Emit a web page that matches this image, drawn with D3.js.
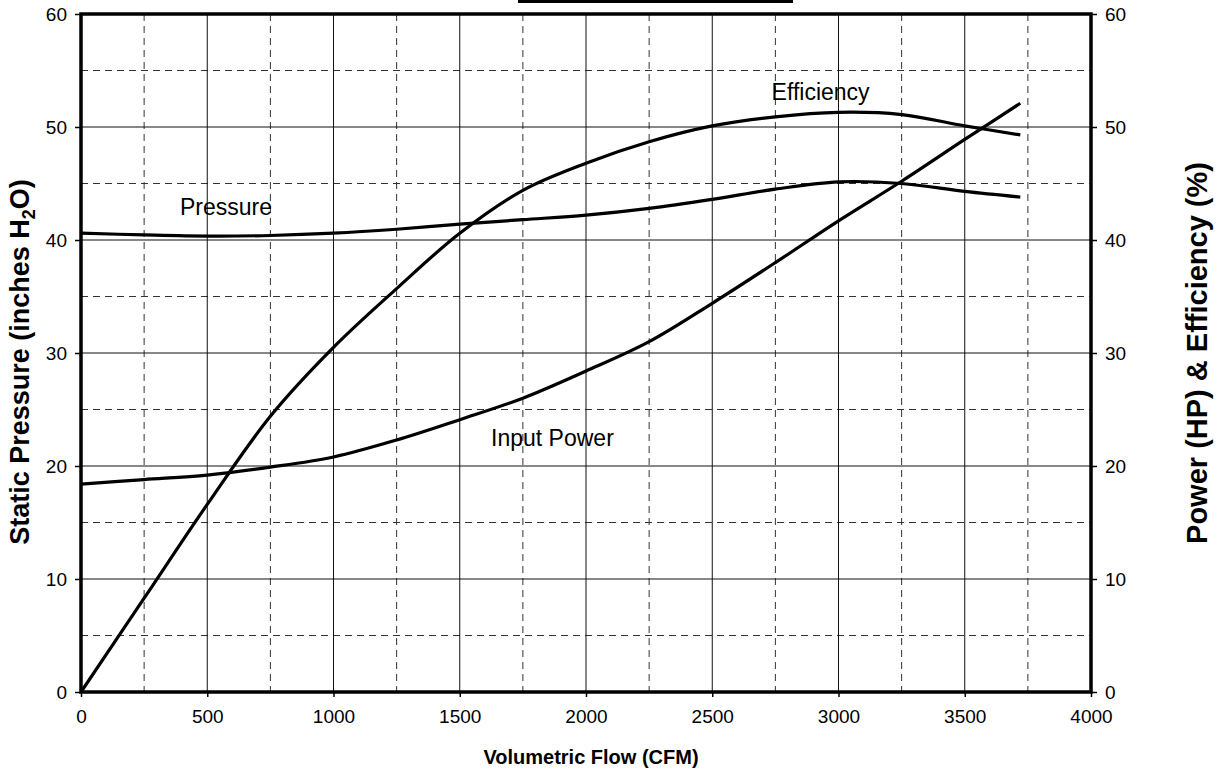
<!DOCTYPE html>
<html>
<head>
<meta charset="utf-8">
<script src="https://cdn.jsdelivr.net/npm/d3@7"></script>
<style>
  body { margin: 0; background: #fff; }
  svg { display: block; font-family: Arial, "Liberation Sans", sans-serif; }
</style>
</head>
<body>
<div id="chart"></div>
<script>
// ---------- data ----------
const flow = [0, 250, 500, 750, 1000, 1250, 1500, 1750, 2000, 2250, 2500, 2750, 3000, 3250, 3500, 3720];
const pressure = [40.6, 40.45, 40.35, 40.4, 40.6, 40.95, 41.4, 41.8, 42.2, 42.8, 43.6, 44.5, 45.15, 45.0, 44.3, 43.8];
const efficiency = [0, 8.3, 16.6, 24.4, 30.5, 35.7, 40.6, 44.4, 46.8, 48.7, 50.1, 50.9, 51.3, 51.1, 50.1, 49.3];
const inputPower = [18.4, 18.8, 19.2, 19.9, 20.8, 22.3, 24.1, 26.0, 28.4, 31.0, 34.4, 38.0, 41.7, 45.2, 48.9, 52.1];

const xTicks = [0, 500, 1000, 1500, 2000, 2500, 3000, 3500, 4000];
const xMinor = [250, 750, 1250, 1750, 2250, 2750, 3250, 3750];
const yTicks = [0, 10, 20, 30, 40, 50, 60];
const yMinor = [5, 15, 25, 35, 45, 55];

// ---------- layout ----------
const width = 1220, height = 772;
const margin = {top: 14, right: 129, bottom: 80, left: 81};
const w = width - margin.left - margin.right;
const h = height - margin.top - margin.bottom;

const svg = d3.select("#chart").append("svg")
  .attr("width", width)
  .attr("height", height);

// cut-off title box edge at the top
svg.append("line")
  .attr("x1", 518).attr("x2", 793)
  .attr("y1", 1.5).attr("y2", 1.5)
  .attr("stroke", "#000").attr("stroke-width", 3);

const g = svg.append("g")
  .attr("transform", `translate(${margin.left},${margin.top})`);

// ---------- scales ----------
const x = d3.scaleLinear().domain([0, 4000]).range([0, w]);
const yL = d3.scaleLinear().domain([0, 60]).range([h, 0]);
const yR = d3.scaleLinear().domain([0, 60]).range([h, 0]);

// ---------- grid ----------
const grid = g.append("g").attr("class", "grid");
grid.selectAll(".vmin").data(xMinor).enter().append("line")
  .attr("x1", d => x(d)).attr("x2", d => x(d))
  .attr("y1", 0).attr("y2", h)
  .attr("stroke", "#333").attr("stroke-width", 1).attr("stroke-dasharray", "7,5");
grid.selectAll(".hmin").data(yMinor).enter().append("line")
  .attr("x1", 0).attr("x2", w)
  .attr("y1", d => yL(d)).attr("y2", d => yL(d))
  .attr("stroke", "#333").attr("stroke-width", 1).attr("stroke-dasharray", "7,5");
grid.selectAll(".vmaj").data(xTicks.slice(1, -1)).enter().append("line")
  .attr("x1", d => x(d)).attr("x2", d => x(d))
  .attr("y1", 0).attr("y2", h)
  .attr("stroke", "#111").attr("stroke-width", 1);
grid.selectAll(".hmaj").data(yTicks.slice(1, -1)).enter().append("line")
  .attr("x1", 0).attr("x2", w)
  .attr("y1", d => yL(d)).attr("y2", d => yL(d))
  .attr("stroke", "#111").attr("stroke-width", 1);

// ---------- axes ----------
function styleAxis(sel) {
  sel.select(".domain").remove();
  sel.selectAll(".tick line").attr("stroke", "#000").attr("stroke-width", 1.5);
  sel.selectAll(".tick text").attr("font-size", 19).attr("fill", "#000")
    .attr("font-family", "Arial, 'Liberation Sans', sans-serif");
}
const fmt = d3.format("d");

g.append("g")
  .attr("transform", `translate(0,${h})`)
  .call(d3.axisBottom(x).tickValues(xTicks).tickFormat(fmt).tickSize(5).tickPadding(13))
  .call(styleAxis);

g.append("g")
  .call(d3.axisLeft(yL).tickValues(yTicks).tickFormat(fmt).tickSize(6).tickPadding(8))
  .call(styleAxis);

g.append("g")
  .attr("transform", `translate(${w},0)`)
  .call(d3.axisRight(yR).tickValues(yTicks).tickFormat(fmt).tickSize(6).tickPadding(8))
  .call(styleAxis);

// plot frame
g.append("rect")
  .attr("x", 0).attr("y", 0).attr("width", w).attr("height", h)
  .attr("fill", "none").attr("stroke", "#000").attr("stroke-width", 3.5);

// ---------- curves ----------
function series(vals) {
  return flow.map((f, i) => ({f: f, v: vals[i]}));
}
const lineL = d3.line().x(d => x(d.f)).y(d => yL(d.v)).curve(d3.curveCatmullRom.alpha(0.5));
const lineR = d3.line().x(d => x(d.f)).y(d => yR(d.v)).curve(d3.curveCatmullRom.alpha(0.5));

g.append("path").datum(series(pressure)).attr("d", lineL)
  .attr("fill", "none").attr("stroke", "#000").attr("stroke-width", 3.2);
g.append("path").datum(series(efficiency)).attr("d", lineR)
  .attr("fill", "none").attr("stroke", "#000").attr("stroke-width", 3.2);
g.append("path").datum(series(inputPower)).attr("d", lineR)
  .attr("fill", "none").attr("stroke", "#000").attr("stroke-width", 3.2);

// curve labels
const labels = [
  {text: "Pressure", f: 392, v: 42.2, scale: yL},
  {text: "Efficiency", f: 2735, v: 52.4, scale: yR},
  {text: "Input Power", f: 1624, v: 21.8, scale: yR}
];
g.selectAll(".clabel").data(labels).enter().append("text")
  .attr("x", d => x(d.f)).attr("y", d => d.scale(d.v))
  .attr("font-size", 23).attr("fill", "#000")
  .text(d => d.text);

// ---------- axis titles ----------
svg.append("text")
  .attr("x", margin.left + w / 2 + 5).attr("y", 764)
  .attr("text-anchor", "middle")
  .attr("font-size", 20).attr("font-weight", "bold")
  .text("Volumetric Flow (CFM)");

const yt = svg.append("text")
  .attr("transform", `translate(29,362) rotate(-90)`)
  .attr("text-anchor", "middle")
  .attr("font-size", 27).attr("font-weight", "bold");
yt.append("tspan").text("Static Pressure (inches H");
yt.append("tspan").attr("font-size", 18).attr("dy", 6).text("2");
yt.append("tspan").attr("dy", -6).text("O)");

svg.append("text")
  .attr("transform", `translate(1207,353) rotate(-90)`)
  .attr("text-anchor", "middle")
  .attr("font-size", 29).attr("font-weight", "bold")
  .text("Power (HP) & Efficiency (%)");
</script>
</body>
</html>
